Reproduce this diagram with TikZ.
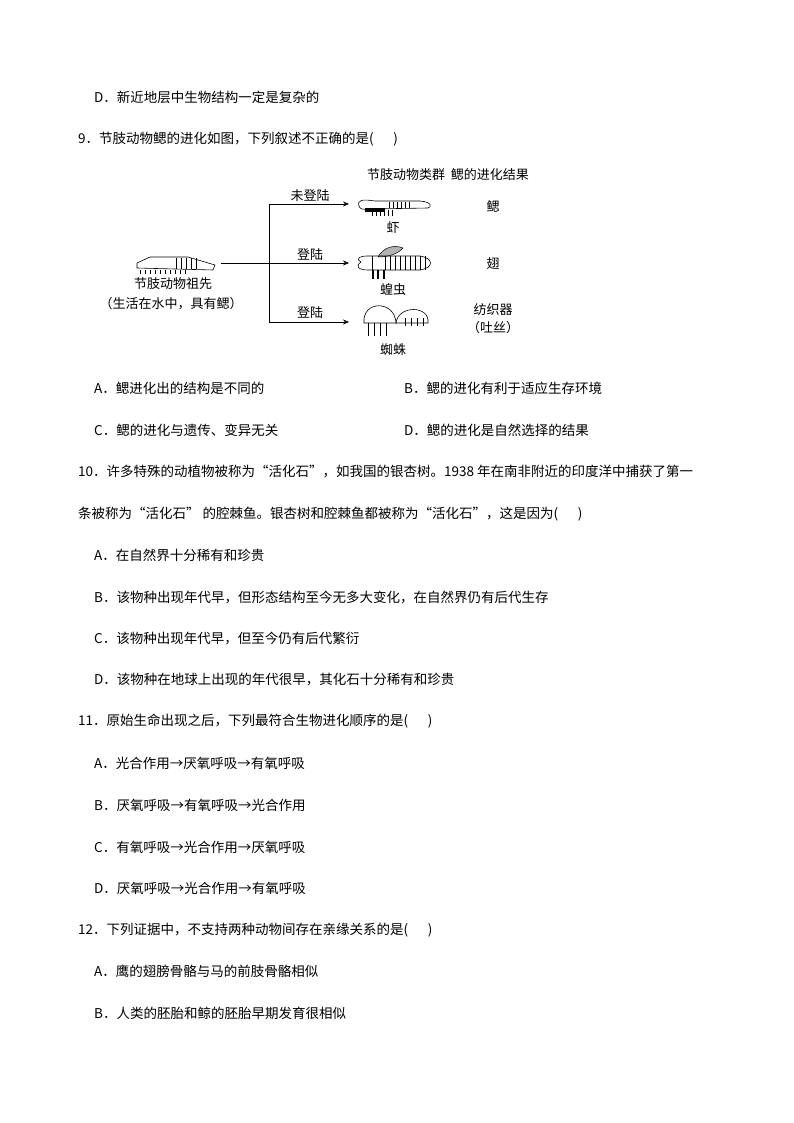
\documentclass[tikz,border=0pt]{standalone}
\usepackage{fontspec}
\newfontfamily\cjk{Noto Sans CJK SC}
\usetikzlibrary{arrows.meta}
\begin{document}
\begin{tikzpicture}[x=1pt,y=-1pt,
  txt/.style={anchor=west,inner sep=0,font=\cjk\fontsize{13.5}{15}\selectfont},
  lab/.style={inner sep=0,font=\cjk\fontsize{13}{15}\selectfont},
  arr/.style={-{Stealth[length=6pt,width=5pt]},line width=0.6pt},
  bug/.style={line width=0.6pt}]
\useasboundingbox (0,0) rectangle (794,1123);
\node[txt] (d8) at (94,97) {D．新近地层中生物结构一定是复杂的};
\node[txt] (q9) at (78,139) {9．节肢动物鳃的进化如图，下列叙述不正确的是(\quad\ \ )};
% diagram
\node[lab] (hdr) at (448,175) {节肢动物类群\ \ 鳃的进化结果};
% ancestor
\draw[bug] (137,268) -- (137,263) -- (150,257) -- (188,257) -- (215,265) -- (213,270) -- cycle;
\foreach \x in {176,181,186,191,196} \draw[bug] (\x,258) -- (\x,269);
\foreach \x in {140,145,...,185} \draw[bug] (\x,270) -- (\x,274);
\node[lab] (anc) at (173,284) {节肢动物祖先};
\node[lab] (anc2) at (171,304) {（生活在水中，具有鳃）};
\coordinate (src) at (221,263);
\coordinate (jt) at (269,204);
\coordinate (jb) at (269,322);
\coordinate (t1) at (349,204);
\coordinate (t2) at (349,263);
\coordinate (t3) at (349,322);
\draw[arr] (src) -- (t2);
\draw[line width=0.6pt] (jt) -- (jb);
\draw[arr] (jt) -- (t1);
\draw[arr] (jb) -- (t3);
\node[lab] (l1) at (310,196) {未登陆};
\node[lab] (l2) at (310,255) {登陆};
\node[lab] (l3) at (310,313) {登陆};
% shrimp
\draw[bug] (359,206) .. controls (357,200) and (362,199) .. (375,201) -- (420,201) .. controls (432,202) and (432,207) .. (428,208) -- (370,209) .. controls (362,210) and (360,209) .. (359,206);
\fill (365,208) rectangle (385,212);
\foreach \x in {389,393,...,410} \draw[bug] (\x,202) -- (\x,208);
\foreach \x in {372,376,...,392} \draw[bug] (\x,210) -- (\x,216);
\node[lab] (n1) at (393,228) {虾};
% locust
\fill[gray!60,draw=black,line width=0.5pt] (378,257) .. controls (383,248) and (393,244) .. (403,248) .. controls (398,254) and (388,257) .. (378,257);
\draw[bug] (361,262) .. controls (355,258) and (360,256) .. (368,256) -- (420,256) .. controls (434,258) and (434,268) .. (420,270) -- (368,270) .. controls (358,270) and (355,266) .. (361,262);
\foreach \x in {372,385,390,...,425} \draw[bug] (\x,256) -- (\x,270);
\foreach \x in {373,378,384} \draw[line width=2pt] (\x,270) -- (\x,279);
\node[lab] (n2) at (393,290) {蝗虫};
% spider
\draw[bug] (364,323) .. controls (362,300) and (395,300) .. (396,323) .. controls (398,305) and (430,305) .. (428,323) -- (364,323);
\foreach \x in {368,374,380,386} \draw[bug] (\x,323) -- (\x,336);
\foreach \x in {405,411,417,423} \draw[bug] (\x,318) -- (\x,326);
\node[lab] (n3) at (393,350) {蜘蛛};
\node[lab] (r1) at (493,206) {鳃};
\node[lab] (r2) at (493,264) {翅};
\node[lab] (r3) at (493,310) {纺织器};
\node[lab] (r4) at (493,328) {（吐丝）};
% options
\node[txt] (a9) at (94,388) {A．鳃进化出的结构是不同的};
\node[txt] (b9) at (404,388) {B．鳃的进化有利于适应生存环境};
\node[txt] (c9) at (94,430) {C．鳃的进化与遗传、变异无关};
\node[txt] (dd9) at (404,430) {D．鳃的进化是自然选择的结果};
\node[txt] (q10) at (78,472) {10．许多特殊的动植物被称为“活化石”，如我国的银杏树。1938 年在南非附近的印度洋中捕获了第一};
\node[txt] (q10b) at (78,514) {条被称为“活化石” 的腔棘鱼。银杏树和腔棘鱼都被称为“活化石”，这是因为(\quad\ \ )};
\node[txt] (a10) at (94,555) {A．在自然界十分稀有和珍贵};
\node[txt] (b10) at (94,597) {B．该物种出现年代早，但形态结构至今无多大变化，在自然界仍有后代生存};
\node[txt] (c10) at (94,638) {C．该物种出现年代早，但至今仍有后代繁衍};
\node[txt] (d10) at (94,680) {D．该物种在地球上出现的年代很早，其化石十分稀有和珍贵};
\node[txt] (q11) at (78,721) {11．原始生命出现之后，下列最符合生物进化顺序的是(\quad\ \ )};
\node[txt] (a11) at (94,763) {A．光合作用→厌氧呼吸→有氧呼吸};
\node[txt] (b11) at (94,805) {B．厌氧呼吸→有氧呼吸→光合作用};
\node[txt] (c11) at (94,847) {C．有氧呼吸→光合作用→厌氧呼吸};
\node[txt] (d11) at (94,888) {D．厌氧呼吸→光合作用→有氧呼吸};
\node[txt] (q12) at (78,930) {12．下列证据中，不支持两种动物间存在亲缘关系的是(\quad\ \ )};
\node[txt] (a12) at (94,971) {A．鹰的翅膀骨骼与马的前肢骨骼相似};
\node[txt] (b12) at (94,1013) {B．人类的胚胎和鲸的胚胎早期发育很相似};
\end{tikzpicture}
\end{document}
